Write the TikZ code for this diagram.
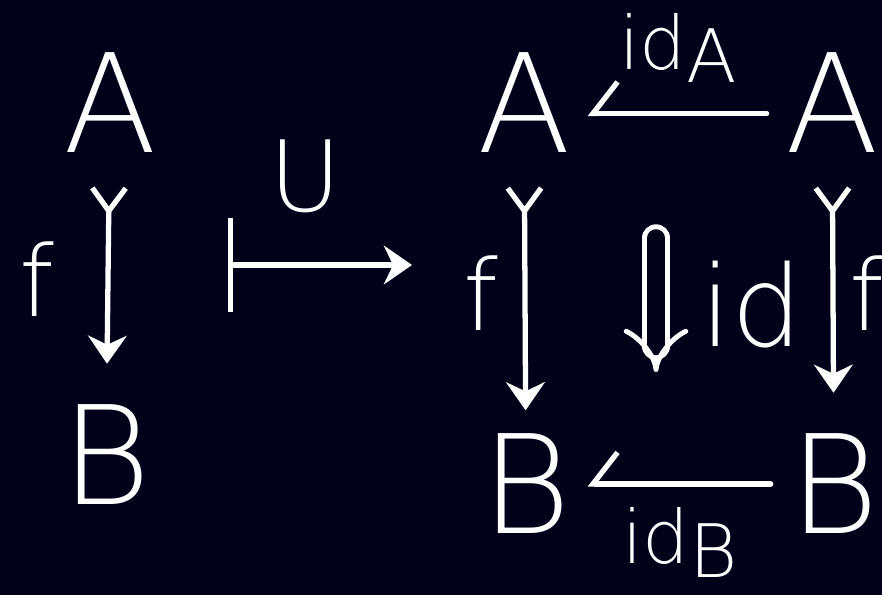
\documentclass[tikz,border=0pt]{standalone}
\usepackage{fontspec}
\IfFontExistsTF{DejaVuSans-ExtraLight.ttf}
  {\newfontfamily\hand{DejaVuSans-ExtraLight.ttf}}
  {\newfontfamily\hand{Fira Sans}}
\usetikzlibrary{arrows.meta}
\definecolor{board}{RGB}{1,1,26}
\newcommand\idsub[1]{id\raisebox{-0.18em}{#1}}

\begin{document}
\begin{tikzpicture}[x=0.02cm, y=-0.02cm, line width=3pt, white, line cap=round,
  obj/.style={inner sep=0pt, font=\hand\fontsize{78}{78}\selectfont},
  lbl/.style={inner sep=0pt, font=\hand\fontsize{56}{56}\selectfont},
  idlbl/.style={inner sep=0pt, font=\hand\fontsize{42}{42}\selectfont},
  mono/.style={{Straight Barb[reversed, length=13pt, width=19pt]}-{Stealth[length=16pt, width=22pt]}, shorten <=17pt, shorten >=22pt},
  back/.style={-{Straight Barb[right, length=14pt, width=36pt]}, shorten <=9pt, shorten >=8pt},
  mapsto/.style={{Bar[width=54pt]}-{Stealth[length=16pt, width=22pt]}},
  twocell/.style={double=board, double distance=10pt, line width=2.8pt, -{Implies}}]
  \useasboundingbox (0,0) rectangle (882,595);
  \fill[board] (0,0) rectangle (882,595);

  % left: the arrow f
  \node[obj] (A) at (110,103) {A};
  \node[obj] (B) at (106,455) {B};
  \draw[mono] (A) -- (B) node[lbl, midway, left=29pt] {f};

  % U sends it to a square
  \coordinate (m1) at (228,265);
  \coordinate (m2) at (412,265);
  \draw[mapsto] (m1) -- (m2) node[lbl, pos=0.42, above=28pt] {U};

  % right: the square
  \node[obj] (A1) at (524,103) {A};
  \node[obj] (A2) at (832,103) {A};
  \node[obj] (B1) at (526,484) {B};
  \node[obj] (B2) at (834,484) {B};

  \draw[back] ([yshift=-6pt]A2.west) -- ([yshift=-6pt]A1.east) node[idlbl, midway, above=16pt] {\idsub{A}};
  \draw[back] (B2) -- (B1) node[idlbl, midway, below=12pt] {\idsub{B}};
  \draw[mono, shorten >=12pt] (A1) -- (B1) node[lbl, midway, left=14pt] {f};
  \draw[mono] (A2) -- (B2) node[lbl, midway, right=8pt] {f};

  \coordinate (c1) at (656,238);
  \coordinate (c2) at (656,372);
  \draw[twocell] (c1) -- (c2) node[obj, midway, right=24pt, font=\hand\fontsize{64}{64}\selectfont] {id};
\end{tikzpicture}
\end{document}
